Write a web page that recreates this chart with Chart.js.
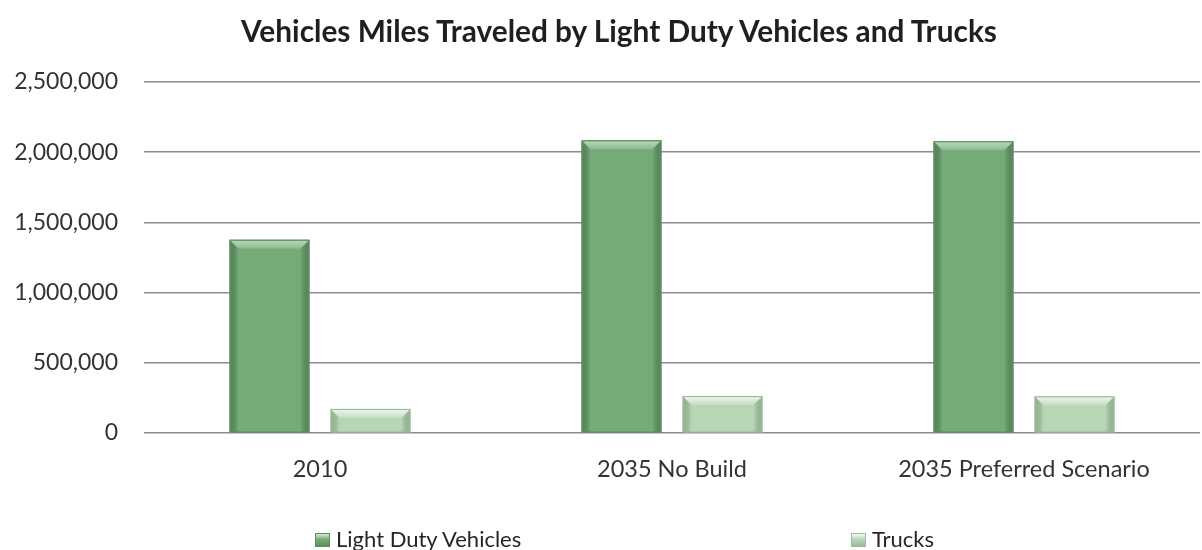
<!DOCTYPE html>
<html>
<head>
<meta charset="utf-8">
<title>Vehicles Miles Traveled by Light Duty Vehicles and Trucks</title>
<script src="https://cdn.jsdelivr.net/npm/chart.js@4/dist/chart.umd.min.js"></script>
<style>
  html, body { margin: 0; padding: 0; background: #ffffff; }
  #wrap { position: relative; width: 1202px; height: 550px; overflow: hidden; font-family: Lato, "Open Sans", sans-serif; }
  #chart { position: absolute; left: 0; top: 0; }
  #title { position: absolute; left: 0; width: 1238px; top: 14px; text-align: center; font-weight: bold; font-size: 29.8px; line-height: 34px; color: #1f1f1f; white-space: nowrap; }
  .legend-item { position: absolute; top: 526px; font-size: 22px; color: #262626; line-height: 26px; white-space: nowrap; }
  .legend-item .swatch { position: absolute; left: 0; top: 7px; width: 15px; height: 14px; }
  .legend-item .label { position: absolute; left: 21px; top: 0; }
</style>
</head>
<body>
<div id="wrap">
  <canvas id="chart" width="1202" height="550"></canvas>
  <div id="title">Vehicles Miles Traveled by Light Duty Vehicles and Trucks</div>
  <div id="legend"></div>
</div>
<script>
// Categories along the x axis
const categories = ['2010', '2035 No Build', '2035 Preferred Scenario'];

// Vehicle miles traveled per category
const lightDutyVehicles = [1376000, 2085000, 2078000];
const trucks = [170000, 262000, 260000];

// Value axis ticks
const yTickValues = [0, 500000, 1000000, 1500000, 2000000, 2500000];

const seriesNames = ['Light Duty Vehicles', 'Trucks'];

// Fill, bevel and edge colours for each series
const palette = [
  { fill: '#74ab77', light: 'rgba(200,228,196,0.75)', dark: 'rgba(70,110,74,0.55)', edge: '#5c8d60' },
  { fill: '#b8d6b6', light: 'rgba(244,250,242,0.9)', dark: 'rgba(120,150,120,0.45)', edge: '#9dbb9c' }
];

// Draws a bevelled top and shaded sides on every bar the library laid out
const bevelPlugin = {
  id: 'bevel',
  afterDatasetsDraw(chart) {
    const ctx = chart.ctx;
    chart.data.datasets.forEach((ds, di) => {
      const meta = chart.getDatasetMeta(di);
      const col = palette[di];
      meta.data.forEach(bar => {
        const p = bar.getProps(['x', 'y', 'base', 'width'], true);
        const l = p.x - p.width / 2, r = p.x + p.width / 2;
        const top = p.y, bottom = p.base;
        const h = bottom - top;
        const b = Math.min(9, h / 2.5);
        ctx.save();
        // left side
        let g = ctx.createLinearGradient(l, 0, l + b, 0);
        g.addColorStop(0, col.dark);
        g.addColorStop(1, 'rgba(0,0,0,0)');
        ctx.fillStyle = g;
        ctx.beginPath();
        ctx.moveTo(l, top); ctx.lineTo(l + b, top + b); ctx.lineTo(l + b, bottom); ctx.lineTo(l, bottom);
        ctx.closePath(); ctx.fill();
        // right side
        g = ctx.createLinearGradient(r, 0, r - b, 0);
        g.addColorStop(0, col.dark);
        g.addColorStop(1, 'rgba(0,0,0,0)');
        ctx.fillStyle = g;
        ctx.beginPath();
        ctx.moveTo(r, top); ctx.lineTo(r - b, top + b); ctx.lineTo(r - b, bottom); ctx.lineTo(r, bottom);
        ctx.closePath(); ctx.fill();
        // top bevel
        g = ctx.createLinearGradient(0, top, 0, top + b);
        g.addColorStop(0, col.light);
        g.addColorStop(1, 'rgba(255,255,255,0.15)');
        ctx.fillStyle = g;
        ctx.beginPath();
        ctx.moveTo(l, top); ctx.lineTo(r, top); ctx.lineTo(r - b, top + b); ctx.lineTo(l + b, top + b);
        ctx.closePath(); ctx.fill();
        // outline
        ctx.strokeStyle = col.edge;
        ctx.lineWidth = 1.2;
        ctx.strokeRect(l + 0.5, top + 0.5, p.width - 1, h - 0.5);
        ctx.restore();
      });
    });
  }
};

const fmt = new Intl.NumberFormat('en-US');

const chart = new Chart(document.getElementById('chart'), {
  type: 'bar',
  data: {
    labels: categories,
    datasets: [
      { label: seriesNames[0], data: lightDutyVehicles, backgroundColor: palette[0].fill, borderWidth: 0 },
      { label: seriesNames[1], data: trucks, backgroundColor: palette[1].fill, borderWidth: 0 }
    ]
  },
  options: {
    responsive: false,
    animation: false,
    events: [],
    datasets: { bar: { categoryPercentage: 0.574, barPercentage: 0.79 } },
    layout: { padding: { top: 82, right: 2, bottom: 43, left: 0 } },
    plugins: {
      legend: { display: false },
      title: { display: false },
      tooltip: { enabled: false }
    },
    scales: {
      x: {
        grid: { display: false, drawTicks: false },
        border: { display: false },
        ticks: { color: '#333333', padding: 23, font: { family: 'Lato', size: 23.5 } }
      },
      y: {
        min: 0,
        max: 2500000,
        afterFit(scale) { scale.width = 144; },
        afterBuildTicks(scale) { scale.ticks = yTickValues.map(v => ({ value: v })); },
        grid: { color: '#8c8c8c', lineWidth: 1.5, drawTicks: false },
        border: { display: false },
        ticks: {
          color: '#333333',
          padding: 26,
          font: { family: 'Lato', size: 23 },
          callback: v => fmt.format(v)
        }
      }
    }
  },
  plugins: [bevelPlugin]
});

// Legend built from the chart's own datasets
const legendPositions = [315, 851];
const legend = document.getElementById('legend');
chart.data.datasets.forEach((ds, i) => {
  const item = document.createElement('div');
  item.className = 'legend-item';
  item.style.left = legendPositions[i] + 'px';
  const sw = document.createElement('span');
  sw.className = 'swatch';
  sw.style.background = 'linear-gradient(180deg, ' + palette[i].light + ' 0%, ' + ds.backgroundColor + ' 45%, ' + palette[i].edge + ' 100%)';
  sw.style.border = '1px solid ' + palette[i].edge;
  sw.style.boxSizing = 'border-box';
  const lb = document.createElement('span');
  lb.className = 'label';
  lb.textContent = ds.label;
  item.appendChild(sw);
  item.appendChild(lb);
  legend.appendChild(item);
});
</script>
</body>
</html>
